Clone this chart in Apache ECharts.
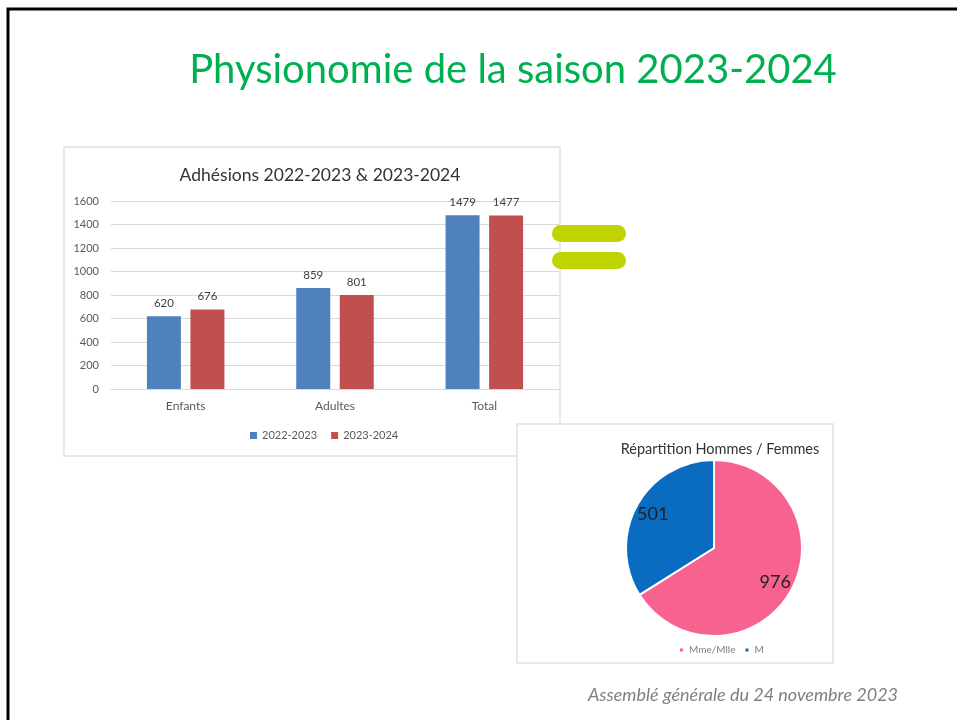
<!DOCTYPE html>
<html>
<head>
<meta charset="utf-8">
<script src="https://cdn.jsdelivr.net/npm/echarts@6/dist/echarts.min.js"></script>
<style>
  html, body { margin: 0; padding: 0; background: #fff; }
  #main { width: 957px; height: 720px; }
</style>
</head>
<body>
<div id="main"></div>
<script>
// adhesions par categorie
var categories = ['Enfants', 'Adultes', 'Total'];
var saison2223 = [620, 859, 1479];
var saison2324 = [676, 801, 1477];
var seasonNames = ['2022-2023', '2023-2024'];

// repartition hommes / femmes
var genreNames = ['Mme/Mlle', 'M'];
var genreValues = [976, 501];

var font = 'Lato, "Open Sans", sans-serif';

var chart = echarts.init(document.getElementById('main'));

var option = {
	animation: false,
	textStyle: { fontFamily: font },
	title: [{
		text: 'Physionomie de la saison 2023-2024',
		left: 508, top: 45, textAlign: 'center',
		textStyle: { color: '#00B050', fontSize: 40, fontWeight: 'normal', fontFamily: font }
	}, {
		text: 'Adhésions 2022-2023 & 2023-2024',
		left: 315, top: 161, textAlign: 'center',
		textStyle: { color: '#333', fontSize: 17.5, fontWeight: 'normal', fontFamily: font }
	}, {
		text: 'Répartition Hommes / Femmes',
		left: 715, top: 437, textAlign: 'center',
		textStyle: { color: '#333', fontSize: 14.5, fontWeight: 'normal', fontFamily: font }
	}],
	graphic: [
		// cadre de la diapo
		{ type: 'rect', z: 0, shape: { x: 8, y: 9, width: 1000, height: 800 },
		  style: { fill: 'none', stroke: '#000', lineWidth: 3 } },
		// panneau histogramme
		{ type: 'rect', z: 0, shape: { x: 64, y: 147, width: 496, height: 309 },
		  style: { fill: '#fff', stroke: '#e2e2e2', lineWidth: 1.5 } },
		// panneau camembert
		{ type: 'rect', z: 0, shape: { x: 517, y: 424, width: 316, height: 239 },
		  style: { fill: '#fff', stroke: '#e2e2e2', lineWidth: 1.5 } },
		// signe egal
		{ type: 'rect', z: 5, shape: { x: 552, y: 225, width: 74, height: 17, r: 8.5 },
		  style: { fill: '#BFD400' } },
		{ type: 'rect', z: 5, shape: { x: 552, y: 252, width: 74, height: 17, r: 8.5 },
		  style: { fill: '#BFD400' } },
		{ type: 'text', left: 588, top: 686,
		  style: { text: 'Assemblé générale du 24 novembre 2023', fill: '#7F7F7F',
		           font: 'italic 18px ' + font } }
	],
	legend: [{
		data: seasonNames,
		left: 250, top: 430, padding: 0,
		icon: 'rect', itemWidth: 7, itemHeight: 7, itemGap: 14, itemStyle: { borderWidth: 0 },
		textStyle: { color: '#595959', fontSize: 11, fontFamily: font }
	}, {
		data: genreNames,
		left: 678, top: 645, padding: 0,
		icon: 'rect', itemWidth: 5, itemHeight: 5, itemGap: 8,
		textStyle: { color: '#7F7F7F', fontSize: 10, fontFamily: font }
	}],
	grid: { left: 111, top: 201, width: 448, height: 188, containLabel: false },
	xAxis: {
		type: 'category',
		data: categories,
		axisLine: { lineStyle: { color: '#d9d9d9' } },
		axisTick: { show: false },
		axisLabel: { color: '#595959', fontSize: 12, margin: 11 }
	},
	yAxis: {
		type: 'value',
		min: 0, max: 1600, interval: 200,
		axisLine: { show: false },
		axisTick: { show: false },
		splitLine: { lineStyle: { color: '#d9d9d9' } },
		axisLabel: { color: '#595959', fontSize: 11, margin: 12,
		             formatter: function (v) { return String(v); } }
	},
	series: [{
		name: seasonNames[0],
		type: 'bar',
		data: saison2223,
		color: '#4F81BD',
		barWidth: 34, barGap: '28%',
		label: { show: true, position: 'top', color: '#404040', fontSize: 11.5, distance: 7 }
	}, {
		name: seasonNames[1],
		type: 'bar',
		data: saison2324,
		color: '#C0504D',
		barWidth: 34,
		label: { show: true, position: 'top', color: '#404040', fontSize: 11.5, distance: 7 }
	}, {
		type: 'pie',
		center: [714, 548],
		radius: 88,
		startAngle: 90,
		clockwise: true,
		color: ['#F7628F', '#0A6CC0'],
		data: genreNames.map(function (n, i) { return { name: n, value: genreValues[i] }; }),
		itemStyle: { borderColor: '#fff', borderWidth: 2 },
		label: { show: false },
		labelLine: { show: false },
		emphasis: { disabled: true }
	}, {
		// couche transparente pour placer les etiquettes plus loin du centre
		type: 'pie',
		center: [714, 548],
		radius: [46, 88],
		startAngle: 90,
		clockwise: true,
		silent: true,
		data: genreValues.slice(),
		itemStyle: { color: 'rgba(0,0,0,0)' },
		label: { show: true, position: 'inside', formatter: '{c}', color: '#222', fontSize: 18 },
		labelLine: { show: false }
	}]
};

chart.setOption(option);
</script>
</body>
</html>
